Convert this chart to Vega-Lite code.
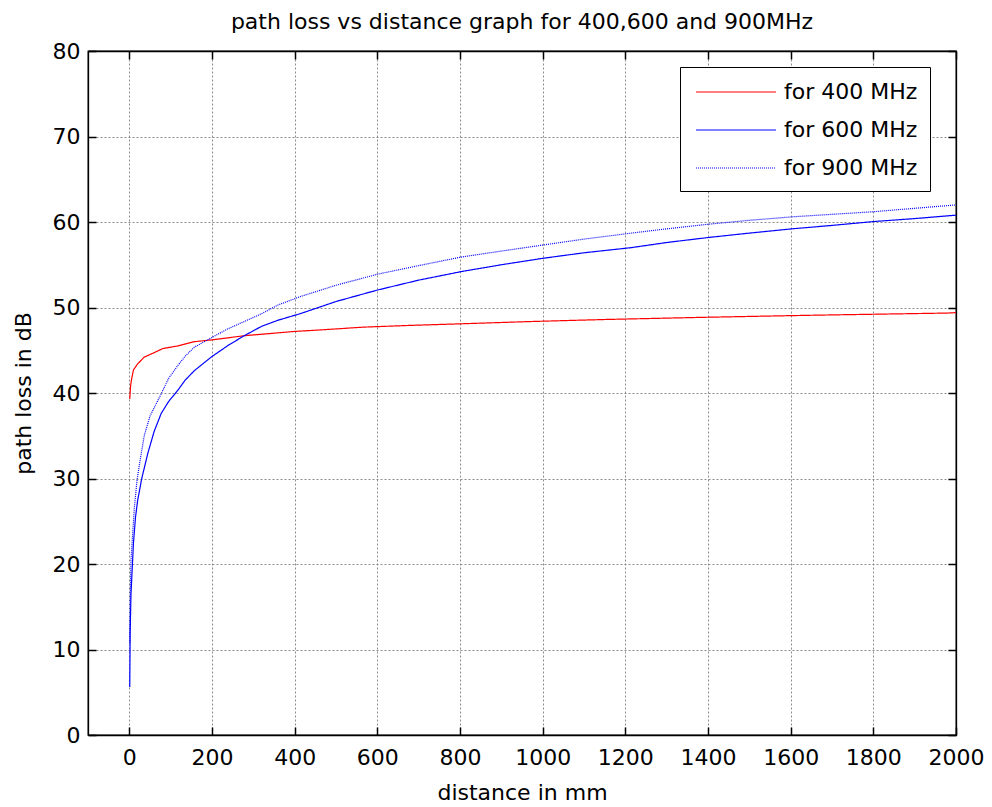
{
  "$schema": "https://vega.github.io/schema/vega-lite/v6.json",
  "width": 868,
  "height": 684,
  "autosize": "none",
  "padding": {"left": 88, "top": 51, "right": 36, "bottom": 72},
  "background": "white",
  "title": {
    "text": "path loss vs distance graph for 400,600 and 900MHz",
    "font": "DejaVu Sans",
    "fontSize": 22,
    "fontWeight": "normal",
    "color": "black",
    "anchor": "middle",
    "offset": 6
  },
  "config": {
    "font": "DejaVu Sans",
    "view": {"stroke": "black", "strokeWidth": 1.3},
    "axis": {
      "labelFont": "DejaVu Sans",
      "labelFontSize": 22,
      "labelColor": "black",
      "titleFont": "DejaVu Sans",
      "titleFontSize": 22,
      "titleFontWeight": "normal",
      "titleColor": "black",
      "domainColor": "black",
      "domainWidth": 1.3,
      "tickColor": "black",
      "tickWidth": 1.5,
      "gridColor": "#808080",
      "gridDash": [2, 2],
      "gridWidth": 1,
      "gridOpacity": 0.9
    }
  },
  "data": {
    "values": [
      {"d": 1, "L": 39.3, "series": "for 400 MHz"},
      {"d": 3, "L": 40.8, "series": "for 400 MHz"},
      {"d": 5, "L": 41.5, "series": "for 400 MHz"},
      {"d": 10, "L": 42.7, "series": "for 400 MHz"},
      {"d": 20, "L": 43.4, "series": "for 400 MHz"},
      {"d": 36, "L": 44.2, "series": "for 400 MHz"},
      {"d": 57, "L": 44.65, "series": "for 400 MHz"},
      {"d": 81, "L": 45.2, "series": "for 400 MHz"},
      {"d": 117, "L": 45.5, "series": "for 400 MHz"},
      {"d": 157, "L": 46.0, "series": "for 400 MHz"},
      {"d": 198, "L": 46.2, "series": "for 400 MHz"},
      {"d": 278, "L": 46.7, "series": "for 400 MHz"},
      {"d": 400, "L": 47.2, "series": "for 400 MHz"},
      {"d": 470, "L": 47.4, "series": "for 400 MHz"},
      {"d": 565, "L": 47.7, "series": "for 400 MHz"},
      {"d": 675, "L": 47.9, "series": "for 400 MHz"},
      {"d": 807, "L": 48.1, "series": "for 400 MHz"},
      {"d": 965, "L": 48.35, "series": "for 400 MHz"},
      {"d": 1153, "L": 48.6, "series": "for 400 MHz"},
      {"d": 1387, "L": 48.85, "series": "for 400 MHz"},
      {"d": 1657, "L": 49.1, "series": "for 400 MHz"},
      {"d": 1980, "L": 49.35, "series": "for 400 MHz"},
      {"d": 2000, "L": 49.4, "series": "for 400 MHz"},

      {"d": 1, "L": 5.6, "series": "for 600 MHz"},
      {"d": 2, "L": 12.0, "series": "for 600 MHz"},
      {"d": 4, "L": 16.5, "series": "for 600 MHz"},
      {"d": 7, "L": 19.5, "series": "for 600 MHz"},
      {"d": 10, "L": 22.5, "series": "for 600 MHz"},
      {"d": 15, "L": 25.5, "series": "for 600 MHz"},
      {"d": 20, "L": 27.4, "series": "for 600 MHz"},
      {"d": 30, "L": 30.0, "series": "for 600 MHz"},
      {"d": 45, "L": 33.0, "series": "for 600 MHz"},
      {"d": 60, "L": 35.5, "series": "for 600 MHz"},
      {"d": 77, "L": 37.6, "series": "for 600 MHz"},
      {"d": 95, "L": 39.0, "series": "for 600 MHz"},
      {"d": 117, "L": 40.3, "series": "for 600 MHz"},
      {"d": 135, "L": 41.5, "series": "for 600 MHz"},
      {"d": 157, "L": 42.6, "series": "for 600 MHz"},
      {"d": 198, "L": 44.2, "series": "for 600 MHz"},
      {"d": 240, "L": 45.6, "series": "for 600 MHz"},
      {"d": 278, "L": 46.7, "series": "for 600 MHz"},
      {"d": 320, "L": 47.8, "series": "for 600 MHz"},
      {"d": 359, "L": 48.5, "series": "for 600 MHz"},
      {"d": 415, "L": 49.3, "series": "for 600 MHz"},
      {"d": 500, "L": 50.7, "series": "for 600 MHz"},
      {"d": 601, "L": 52.05, "series": "for 600 MHz"},
      {"d": 700, "L": 53.2, "series": "for 600 MHz"},
      {"d": 803, "L": 54.2, "series": "for 600 MHz"},
      {"d": 900, "L": 55.0, "series": "for 600 MHz"},
      {"d": 1000, "L": 55.75, "series": "for 600 MHz"},
      {"d": 1100, "L": 56.4, "series": "for 600 MHz"},
      {"d": 1214, "L": 57.0, "series": "for 600 MHz"},
      {"d": 1300, "L": 57.6, "series": "for 600 MHz"},
      {"d": 1403, "L": 58.2, "series": "for 600 MHz"},
      {"d": 1500, "L": 58.7, "series": "for 600 MHz"},
      {"d": 1603, "L": 59.2, "series": "for 600 MHz"},
      {"d": 1700, "L": 59.6, "series": "for 600 MHz"},
      {"d": 1800, "L": 60.05, "series": "for 600 MHz"},
      {"d": 1900, "L": 60.4, "series": "for 600 MHz"},
      {"d": 2000, "L": 60.8, "series": "for 600 MHz"},

      {"d": 1, "L": 10.8, "series": "for 900 MHz"},
      {"d": 2, "L": 16.0, "series": "for 900 MHz"},
      {"d": 4, "L": 20.5, "series": "for 900 MHz"},
      {"d": 8, "L": 23.5, "series": "for 900 MHz"},
      {"d": 12, "L": 26.5, "series": "for 900 MHz"},
      {"d": 18.6, "L": 29.8, "series": "for 900 MHz"},
      {"d": 25, "L": 31.8, "series": "for 900 MHz"},
      {"d": 36, "L": 35.0, "series": "for 900 MHz"},
      {"d": 50, "L": 37.3, "series": "for 900 MHz"},
      {"d": 77, "L": 39.9, "series": "for 900 MHz"},
      {"d": 95, "L": 41.7, "series": "for 900 MHz"},
      {"d": 117, "L": 43.2, "series": "for 900 MHz"},
      {"d": 135, "L": 44.3, "series": "for 900 MHz"},
      {"d": 157, "L": 45.35, "series": "for 900 MHz"},
      {"d": 200, "L": 46.5, "series": "for 900 MHz"},
      {"d": 238, "L": 47.5, "series": "for 900 MHz"},
      {"d": 280, "L": 48.4, "series": "for 900 MHz"},
      {"d": 319, "L": 49.25, "series": "for 900 MHz"},
      {"d": 360, "L": 50.3, "series": "for 900 MHz"},
      {"d": 415, "L": 51.3, "series": "for 900 MHz"},
      {"d": 500, "L": 52.6, "series": "for 900 MHz"},
      {"d": 601, "L": 53.9, "series": "for 900 MHz"},
      {"d": 700, "L": 54.9, "series": "for 900 MHz"},
      {"d": 803, "L": 55.9, "series": "for 900 MHz"},
      {"d": 900, "L": 56.6, "series": "for 900 MHz"},
      {"d": 1000, "L": 57.3, "series": "for 900 MHz"},
      {"d": 1100, "L": 58.0, "series": "for 900 MHz"},
      {"d": 1214, "L": 58.7, "series": "for 900 MHz"},
      {"d": 1300, "L": 59.2, "series": "for 900 MHz"},
      {"d": 1403, "L": 59.75, "series": "for 900 MHz"},
      {"d": 1500, "L": 60.2, "series": "for 900 MHz"},
      {"d": 1603, "L": 60.6, "series": "for 900 MHz"},
      {"d": 1700, "L": 60.9, "series": "for 900 MHz"},
      {"d": 1800, "L": 61.2, "series": "for 900 MHz"},
      {"d": 1900, "L": 61.6, "series": "for 900 MHz"},
      {"d": 2000, "L": 62.0, "series": "for 900 MHz"}
    ]
  },
  "layer": [
    {
      "mark": {"type": "line", "strokeWidth": 1.2, "clip": true},
      "encoding": {
        "x": {
          "field": "d",
          "type": "quantitative",
          "scale": {"domain": [-100, 2000], "nice": false, "zero": false},
          "axis": {
            "title": "distance in mm",
            "format": "d",
            "values": [0, 200, 400, 600, 800, 1000, 1200, 1400, 1600, 1800, 2000],
            "labelFlush": false,
            "labelOverlap": false,
            "tickSize": -8,
            "labelPadding": 20,
            "titlePadding": 14,
            "grid": true
          }
        },
        "y": {
          "field": "L",
          "type": "quantitative",
          "scale": {"domain": [0, 80], "nice": false, "zero": true},
          "axis": {
            "title": "path loss in dB",
            "values": [0, 10, 20, 30, 40, 50, 60, 70, 80],
            "labelFlush": false,
            "labelOverlap": false,
            "tickSize": -8,
            "labelPadding": 16,
            "titlePadding": 17,
            "grid": true
          }
        },
        "color": {
          "field": "series",
          "type": "nominal",
          "scale": {
            "domain": ["for 400 MHz", "for 600 MHz", "for 900 MHz"],
            "range": ["#ff0000", "#0000ff", "#0000ff"]
          },
          "legend": {
            "title": null,
            "orient": "none",
            "legendX": 592,
            "legendY": 16,
            "fillColor": "white",
            "strokeColor": "black",
            "padding": 12,
            "symbolType": "stroke",
            "symbolSize": 6400,
            "symbolStrokeWidth": 1.2,
            "labelFont": "DejaVu Sans",
            "labelFontSize": 22,
            "labelColor": "black",
            "rowPadding": 14,
            "encode": {
              "symbols": {"update": {"x": {"value": 44}, "y": {"value": 13}}},
              "labels": {"update": {"x": {"value": 92}, "y": {"value": 13}}}
            }
          }
        },
        "strokeDash": {
          "field": "series",
          "type": "nominal",
          "scale": {
            "domain": ["for 400 MHz", "for 600 MHz", "for 900 MHz"],
            "range": [[1, 0], [1, 0], [1, 1]]
          },
          "legend": {
            "title": null,
            "orient": "none",
            "legendX": 592,
            "legendY": 16
          }
        }
      }
    },
    {
      "mark": {"type": "point", "opacity": 0},
      "encoding": {
        "x": {
          "field": "d",
          "type": "quantitative",
          "scale": {"domain": [-100, 2000], "nice": false, "zero": false},
          "axis": {
            "orient": "top",
            "title": null,
            "labels": false,
            "grid": false,
            "values": [0, 200, 400, 600, 800, 1000, 1200, 1400, 1600, 1800, 2000],
            "tickSize": -8
          }
        },
        "y": {
          "field": "L",
          "type": "quantitative",
          "scale": {"domain": [0, 80], "nice": false, "zero": true},
          "axis": {
            "orient": "right",
            "title": null,
            "labels": false,
            "grid": false,
            "values": [0, 10, 20, 30, 40, 50, 60, 70, 80],
            "tickSize": -8
          }
        }
      }
    }
  ],
  "resolve": {"axis": {"x": "independent", "y": "independent"}}
}
